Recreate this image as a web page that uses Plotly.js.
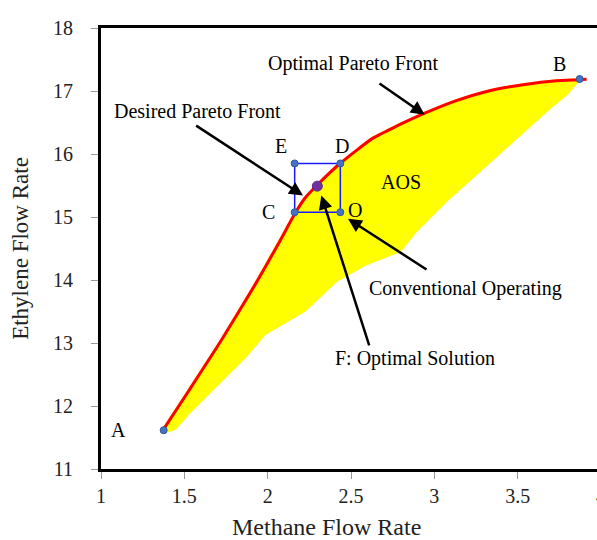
<!DOCTYPE html>
<html>
<head>
<meta charset="utf-8">
<script src="https://cdn.plot.ly/plotly-3.0.1.min.js"></script>
<style>
html,body{margin:0;padding:0;overflow:hidden;background:#fff;}
#chart{width:606px;height:540px;}
</style>
</head>
<body>
<div id="chart"></div>
<script>
// Optimal Pareto front (red curve), from A to B
const frontX = [1.372, 1.522, 1.722, 1.922, 2.072, 2.162, 2.222, 2.300, 2.436, 2.632, 2.782, 2.932, 3.132, 3.332, 3.532, 3.732, 3.872, 3.914];
const frontY = [11.616, 12.223, 13.043, 13.915, 14.612, 15.048, 15.293, 15.515, 15.853, 16.252, 16.453, 16.636, 16.847, 17.005, 17.100, 17.164, 17.179, 17.187];
// Lower boundary of the attainable operating space (AOS), from A to B
const lowerX = [1.38, 1.442, 1.522, 1.622, 1.762, 1.862, 1.982, 2.122, 2.222, 2.412, 2.592, 2.792, 2.892, 3.072, 3.272, 3.472, 3.672, 3.792, 3.852, 3.872];
const lowerY = [11.59, 11.64, 11.881, 12.144, 12.515, 12.778, 13.149, 13.360, 13.518, 13.993, 14.258, 14.464, 14.787, 15.262, 15.737, 16.213, 16.689, 16.952, 17.136, 17.179];
// Named points
const endNames = ['A', 'B'];
const endX = [1.376, 3.872];
const endY = [11.616, 17.19];
const boxNames = ['C', 'E', 'D', 'O'];
const boxX = [2.162, 2.162, 2.436, 2.436];
const boxY = [15.076, 15.85, 15.85, 15.076];
const optX = [2.298];
const optY = [15.49];
// Label positions
const labelText = ['A', 'B', 'C', 'E', 'D', 'O', 'AOS'];
const labelX = [1.107, 3.752, 2.002, 2.078, 2.447, 2.522, 2.797];
const labelY = [11.616, 17.43, 15.076, 16.133, 16.133, 15.114, 15.552];
// Callouts: text position, arrow tail, arrow head
const noteText = ['Optimal Pareto Front', 'Desired Pareto Front', 'F: Optimal Solution', 'Conventional Operating'];
const noteX = [2.512, 1.577, 2.885, 3.187];
const noteY = [17.43, 16.688, 12.753, 13.862];
const tailX = [2.662, 1.562, 2.612, 2.962];
const tailY = [17.136, 16.466, 12.937, 14.152];
const headX = [2.942, 2.212, 2.322, 2.482];
const headY = [16.624, 15.341, 15.341, 14.971];
const xTicks = [1, 1.5, 2, 2.5, 3, 3.5, 4];
const yTicks = [11, 12, 13, 14, 15, 16, 17, 18];
const xTitle = 'Methane Flow Rate';
const yTitle = 'Ethylene Flow Rate';

const FONT = '"Liberation Serif", "Times New Roman", serif';

const polyX = frontX.slice(0, 17).concat(lowerX.slice().reverse());
const polyY = frontY.slice(0, 17).concat(lowerY.slice().reverse());

const traces = [
  {x: polyX, y: polyY, type: 'scatter', mode: 'lines', fill: 'toself',
   fillcolor: '#ffff00', line: {color: '#ffff00', width: 3}, hoverinfo: 'skip'},
  {x: frontX, y: frontY, type: 'scatter', mode: 'lines',
   line: {color: '#ff0000', width: 3, shape: 'spline', smoothing: 0.6}},
  {x: boxX.concat([boxX[0]]), y: boxY.concat([boxY[0]]), type: 'scatter', mode: 'lines',
   line: {color: '#1a1aff', width: 1.5}},
  {x: endX.concat(boxX), y: endY.concat(boxY), type: 'scatter', mode: 'markers',
   text: endNames.concat(boxNames),
   marker: {color: '#4472c4', size: 7, line: {color: '#2f5597', width: 1}}},
  {x: optX, y: optY, type: 'scatter', mode: 'markers',
   marker: {color: '#7030a0', size: 10, line: {color: '#5b2a86', width: 1}}}
];

const annotations = [];
for (let i = 0; i < labelText.length; i++) {
  annotations.push({x: labelX[i], y: labelY[i], xref: 'x', yref: 'y', text: labelText[i],
    showarrow: false, font: {family: FONT, size: 20, color: '#000'}});
}
for (let i = 0; i < noteText.length; i++) {
  annotations.push({x: noteX[i], y: noteY[i], xref: 'x', yref: 'y', text: noteText[i],
    showarrow: false, font: {family: FONT, size: 20, color: '#000'}});
  annotations.push({x: headX[i], y: headY[i], ax: tailX[i], ay: tailY[i],
    xref: 'x', yref: 'y', axref: 'x', ayref: 'y', text: '', showarrow: true,
    arrowhead: 2, arrowsize: 1.1, arrowwidth: 2.5, arrowcolor: '#000', standoff: 0, startstandoff: 0});
}
// x-axis title (offset left of the plot centre, as in the source figure)
annotations.push({x: 0.45, y: -0.131, xref: 'paper', yref: 'paper', xanchor: 'center', yanchor: 'middle',
  text: xTitle, showarrow: false, borderpad: 0, font: {family: FONT, size: 24, color: '#222'}});

const layout = {
  width: 606, height: 540,
  margin: {l: 101, r: 5, t: 28, b: 71},
  paper_bgcolor: '#fff', plot_bgcolor: '#fff',
  showlegend: false,
  font: {family: FONT, size: 20, color: '#000'},
  xaxis: {range: [1, 4], tickvals: xTicks, ticktext: xTicks.map(String),
    showgrid: false, zeroline: false, showline: true, mirror: true, linecolor: '#000', linewidth: 3,
    ticks: 'outside', ticklen: 7, tickcolor: '#999', tickwidth: 1,
    tickfont: {family: FONT, size: 20, color: '#222'}},
  yaxis: {range: [11, 18], tickvals: yTicks, ticktext: yTicks.map(String),
    showgrid: false, zeroline: false, showline: true, mirror: true, linecolor: '#000', linewidth: 3,
    ticks: 'outside', ticklen: 7, tickcolor: '#999', tickwidth: 1, ticklabelstandoff: 14,
    tickfont: {family: FONT, size: 20, color: '#222'},
    title: {text: yTitle, font: {family: FONT, size: 23, color: '#222'}, standoff: 18}},
  annotations: annotations
};

Plotly.newPlot('chart', traces, layout, {displayModeBar: false, staticPlot: true});
</script>
</body>
</html>
